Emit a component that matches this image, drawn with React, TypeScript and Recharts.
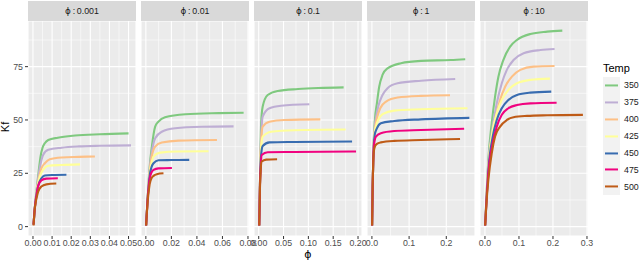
import React from 'react';
import { LineChart, Line, XAxis, YAxis, CartesianGrid } from 'recharts';

const temps = ['350', '375', '400', '425', '450', '475', '500'];
const tempColors = ['#7FC97F', '#BEAED4', '#FDC086', '#FFFF99', '#386CB0', '#F0027F', '#BF5B17'];
const phiLabels = ['0.001', '0.01', '0.1', '1', '10'];

// Kf against phi, one curve per temperature (350 .. 500), points as [phi, Kf]
const curvesPhi0001: number[][][] = [
  [[0.0003, 1], [0.001, 9], [0.002, 18], [0.003, 26], [0.004, 33], [0.005, 37], [0.0062, 39.1], [0.008, 40.6], [0.013, 41.7], [0.022, 42.7], [0.035, 43.3], [0.05, 43.7]],
  [[0.0003, 1], [0.001, 9], [0.002, 17.5], [0.003, 24.5], [0.004, 29.5], [0.0053, 33.6], [0.008, 36], [0.015, 37], [0.024, 37.6], [0.035, 37.9], [0.0513, 38.1]],
  [[0.0003, 1], [0.001, 9], [0.002, 17], [0.003, 22.5], [0.0045, 27.5], [0.0062, 29.7], [0.0088, 31.6], [0.015, 32.4], [0.024, 32.7], [0.0324, 32.9]],
  [[0.0003, 1], [0.001, 9], [0.002, 16.5], [0.003, 21.5], [0.004, 24.5], [0.0053, 26.6], [0.008, 28.5], [0.015, 28.9], [0.0246, 29.2]],
  [[0.0003, 1], [0.001, 9], [0.002, 16], [0.003, 20], [0.0044, 22.7], [0.0062, 24], [0.01, 24.2], [0.0175, 24.3]],
  [[0.0003, 1], [0.001, 9], [0.002, 15.5], [0.0027, 19], [0.0044, 21.7], [0.007, 22.5], [0.013, 22.7]],
  [[0.0003, 0.5], [0.0009, 8], [0.0018, 13], [0.0027, 16.4], [0.0044, 18.8], [0.007, 19.8], [0.0122, 20.2]],
];

const curvesPhi001: number[][][] = [
  [[0.0002, 0.5], [0.0015, 14], [0.003, 28], [0.0047, 37.5], [0.0073, 46.9], [0.0099, 49.2], [0.015, 51.3], [0.031, 52.7], [0.057, 53.2], [0.0766, 53.4]],
  [[0.0002, 0.5], [0.0015, 14], [0.003, 27], [0.0047, 35], [0.0073, 41.4], [0.0125, 44.5], [0.023, 46.1], [0.044, 46.8], [0.0687, 47]],
  [[0.0002, 0.5], [0.0015, 14], [0.003, 26], [0.0045, 32.5], [0.0073, 37.5], [0.0125, 39.4], [0.0256, 40.3], [0.0557, 40.6]],
  [[0.0002, 0.5], [0.0015, 14], [0.003, 25], [0.0045, 30], [0.006, 32.8], [0.0112, 34.7], [0.0256, 35.2], [0.0491, 35.3]],
  [[0.0002, 0.5], [0.0015, 14], [0.003, 24], [0.0045, 28], [0.006, 29.7], [0.0099, 31.1], [0.02, 31.2], [0.034, 31.3]],
  [[0.0002, 0.5], [0.0015, 13.5], [0.003, 22.5], [0.0045, 25.5], [0.006, 26.6], [0.0099, 27.3], [0.0204, 27.5]],
  [[0.0002, 0.5], [0.0015, 12.5], [0.003, 20], [0.0045, 22.8], [0.006, 23.8], [0.0086, 24.6], [0.0138, 25]],
];

const curvesPhi01: number[][][] = [
  [[0.001, 0.5], [0.0025, 20], [0.0038, 38], [0.0048, 48], [0.008, 56.3], [0.018, 61.7], [0.038, 63.6], [0.079, 64.5], [0.12, 65], [0.171, 65.3]],
  [[0.001, 0.5], [0.0025, 20], [0.0038, 36], [0.0052, 44], [0.008, 51.6], [0.0216, 55.5], [0.045, 56.7], [0.102, 57.4]],
  [[0.001, 0.5], [0.0025, 20], [0.0038, 34], [0.0052, 41], [0.008, 46.9], [0.0216, 49.2], [0.052, 50], [0.124, 50.3]],
  [[0.001, 0.5], [0.0025, 20], [0.0038, 32], [0.0052, 38], [0.008, 42.2], [0.025, 44.5], [0.072, 45.2], [0.175, 45.5]],
  [[0.001, 0.5], [0.0025, 20], [0.0038, 30], [0.0052, 34.5], [0.008, 37.8], [0.0216, 39.5], [0.072, 39.7], [0.188, 39.9]],
  [[0.001, 0.5], [0.0025, 19.5], [0.004, 28], [0.006, 33.6], [0.018, 34.9], [0.072, 35], [0.196, 35.2]],
  [[0.001, 0.5], [0.0025, 18], [0.004, 26.5], [0.006, 30.5], [0.015, 31.4], [0.037, 31.6]],
];

const curvesPhi1: number[][][] = [
  [[0.0005, 0.5], [0.002, 19], [0.0035, 30], [0.005, 40], [0.008, 50], [0.0134, 57.8], [0.0196, 65.6], [0.0285, 71.1], [0.042, 74.2], [0.078, 76.6], [0.132, 77.7], [0.212, 78.1], [0.251, 78.5]],
  [[0.0005, 0.5], [0.002, 19], [0.0035, 30], [0.005, 39.5], [0.008, 47.5], [0.0125, 52.5], [0.017, 56.3], [0.0285, 61.7], [0.042, 64.9], [0.069, 67.2], [0.132, 68.4], [0.224, 69.2]],
  [[0.0005, 0.5], [0.002, 19], [0.0035, 30], [0.005, 39], [0.008, 45.5], [0.0134, 50.8], [0.0223, 55.5], [0.038, 58.6], [0.069, 60.5], [0.132, 61.3], [0.21, 61.6]],
  [[0.0005, 0.5], [0.002, 19], [0.0035, 30], [0.005, 38.5], [0.0075, 44], [0.0107, 47], [0.017, 50], [0.0285, 52.7], [0.06, 54.4], [0.132, 55], [0.257, 55.5]],
  [[0.0005, 0.5], [0.002, 19], [0.0035, 30], [0.005, 38], [0.0075, 43], [0.0134, 46.1], [0.024, 48.5], [0.06, 49.5], [0.132, 50.3], [0.262, 51]],
  [[0.0005, 0.5], [0.002, 19], [0.0035, 30], [0.005, 37], [0.0075, 40.5], [0.0107, 42.2], [0.024, 43.8], [0.06, 44.8], [0.132, 45.3], [0.248, 45.9]],
  [[0.0005, 0.5], [0.002, 19], [0.0035, 30], [0.005, 35], [0.0085, 37.8], [0.0134, 38.8], [0.024, 39.5], [0.06, 40.2], [0.132, 40.6], [0.237, 41.1]],
];

const curvesPhi10: number[][][] = [
  [[0.0005, 0.5], [0.005, 16], [0.0099, 31.3], [0.0199, 48.5], [0.0297, 60.9], [0.0395, 70.3], [0.054, 78.1], [0.074, 84.4], [0.094, 87.5], [0.1335, 90.3], [0.183, 91.4], [0.2275, 91.9]],
  [[0.0005, 0.5], [0.005, 15.5], [0.0099, 30], [0.0199, 43.8], [0.0347, 57.8], [0.0495, 67.2], [0.0643, 73.5], [0.084, 78.1], [0.1137, 81.3], [0.163, 82.8], [0.2047, 83.3]],
  [[0.0005, 0.5], [0.005, 15], [0.0099, 28.5], [0.0199, 42], [0.0297, 50], [0.0445, 59.4], [0.0593, 65.6], [0.0792, 70.3], [0.1039, 73.5], [0.1433, 75], [0.2047, 75.3]],
  [[0.0005, 0.5], [0.005, 14.5], [0.0099, 27.5], [0.0228, 45.3], [0.0347, 53.1], [0.0495, 59.4], [0.069, 64.1], [0.094, 67.2], [0.1335, 68.8], [0.191, 69.4]],
  [[0.0005, 0.5], [0.005, 14], [0.0099, 26.5], [0.0228, 42.2], [0.0347, 50], [0.0495, 55.5], [0.069, 59.4], [0.094, 61.7], [0.1335, 62.8], [0.195, 63.3]],
  [[0.0005, 0.5], [0.005, 13.5], [0.0099, 25], [0.0228, 39.1], [0.0347, 46.9], [0.0495, 52.4], [0.069, 55.5], [0.094, 57], [0.1335, 57.8], [0.2107, 58.1]],
  [[0.0005, 0.5], [0.005, 12.5], [0.0099, 21.9], [0.0199, 34.4], [0.0297, 42.2], [0.0445, 46.9], [0.0643, 50], [0.084, 51.3], [0.1237, 51.9], [0.183, 52.2], [0.288, 52.4]],
];

const xTicks0001 = [0, 0.01, 0.02, 0.03, 0.04, 0.05];
const xTicks001 = [0, 0.02, 0.04, 0.06, 0.08];
const xTicks01 = [0, 0.05, 0.1, 0.15, 0.2];
const xTicks1 = [0, 0.1, 0.2];
const xTicks10 = [0, 0.1, 0.2, 0.3];
const kfTicks = [0, 25, 50, 75];
const kfMinor = [12.5, 37.5, 62.5, 87.5];

const panels = [
  { label: phiLabels[0], curves: curvesPhi0001, ticks: xTicks0001, domain: [-0.0026, 0.0539], digits: 2 },
  { label: phiLabels[1], curves: curvesPhi001, ticks: xTicks001, domain: [-0.0038, 0.0808], digits: 2 },
  { label: phiLabels[2], curves: curvesPhi01, ticks: xTicks01, domain: [-0.0095, 0.208], digits: 2 },
  { label: phiLabels[3], curves: curvesPhi1, ticks: xTicks1, domain: [-0.0132, 0.2772], digits: 1 },
  { label: phiLabels[4], curves: curvesPhi10, ticks: xTicks10, domain: [-0.0146, 0.303], digits: 1 },
];

const FONT = '"Liberation Sans", Arial, sans-serif';
const PHI_FONT = '"DejaVu Sans", sans-serif';
const PANEL_LEFT = 28;
const PANEL_W = 108;
const PANEL_STEP = 113;
const PANEL_TOP = 21;
const PANEL_H = 215;
const AXIS_H = 22;
const KF_DOMAIN = [-4.4, 96.4];

// minor grid halfway between major breaks, kept inside the panel range
const minorBreaks = (ticks: number[], domain: number[]) => {
  const step = ticks[1] - ticks[0];
  return [...ticks, ticks[ticks.length - 1] + step]
    .map((t) => t - step / 2)
    .filter((t) => t > domain[0] && t < domain[1]);
};

const tickStyle = { fill: '#4D4D4D', fontSize: 8.8, fontFamily: FONT };

const Panel = ({ index }: { index: number }) => {
  const p = panels[index];
  const first = index === 0;
  const left = first ? 0 : PANEL_LEFT + index * PANEL_STEP;
  const width = first ? PANEL_LEFT + PANEL_W : PANEL_W;
  return (
    <div style={{ position: 'absolute', left, top: PANEL_TOP }}>
      <LineChart width={width} height={PANEL_H + AXIS_H} margin={{ top: 0, right: 0, bottom: 0, left: 0 }}>
        <CartesianGrid
          fill="#EBEBEB"
          stroke="#FFFFFF"
          strokeWidth={0.55}
          horizontalValues={kfMinor}
          verticalValues={minorBreaks(p.ticks, p.domain)}
        />
        <CartesianGrid stroke="#FFFFFF" strokeWidth={1.1} />
        <XAxis
          type="number"
          dataKey="x"
          domain={p.domain}
          ticks={p.ticks}
          interval={0}
          allowDataOverflow
          height={AXIS_H}
          axisLine={false}
          tickLine={{ stroke: '#333333' }}
          tickSize={3}
          tickMargin={1}
          tick={tickStyle}
          tickFormatter={(v: number) => v.toFixed(p.digits)}
        />
        <YAxis
          type="number"
          domain={KF_DOMAIN}
          ticks={kfTicks}
          allowDataOverflow
          hide={!first}
          width={PANEL_LEFT}
          axisLine={false}
          tickLine={{ stroke: '#333333' }}
          tickSize={3}
          tickMargin={2}
          tick={tickStyle}
        />
        {p.curves.map((pts, k) => (
          <Line
            key={temps[k]}
            data={pts.map(([x, y]) => ({ x, y }))}
            dataKey="y"
            type="monotone"
            stroke={tempColors[k]}
            strokeWidth={2.1}
            dot={false}
            activeDot={false}
            isAnimationActive={false}
          />
        ))}
      </LineChart>
    </div>
  );
};

const Strip = ({ index }: { index: number }) => (
  <div
    style={{
      position: 'absolute',
      left: PANEL_LEFT + index * PANEL_STEP,
      top: 1,
      width: PANEL_W,
      height: 20,
      background: '#D9D9D9',
      color: '#1A1A1A',
      fontSize: 8.8,
      display: 'flex',
      alignItems: 'center',
      justifyContent: 'center',
    }}
  >
    <span style={{ fontFamily: PHI_FONT, color: '#1A1A1A' }}>ϕ</span>
    {`\u2009:\u2009${panels[index].label}`}
  </div>
);

const Legend = () => (
  <div style={{ position: 'absolute', left: 603, top: 61 }}>
    <div style={{ fontSize: 11, color: '#000', lineHeight: '14px', marginBottom: 2 }}>Temp</div>
    {temps.map((t, k) => (
      <div key={t} style={{ display: 'flex', alignItems: 'center', height: 16.9 }}>
        <svg width={17} height={16.9} style={{ background: '#F2F2F2', display: 'block' }}>
          <line x1={2} x2={15} y1={8.45} y2={8.45} stroke={tempColors[k]} strokeWidth={2} />
        </svg>
        <span style={{ fontSize: 8.8, color: '#1A1A1A', marginLeft: 4 }}>{t}</span>
      </div>
    ))}
  </div>
);

export default function App() {
  return (
    <div
      style={{
        position: 'absolute',
        left: 0,
        top: 0,
        width: 640,
        height: 262,
        background: '#FFFFFF',
        fontFamily: FONT,
        overflow: 'hidden',
      }}
    >
      <style>{'.recharts-surface { overflow: visible; }'}</style>
      {panels.map((p, i) => (
        <Panel key={p.label} index={i} />
      ))}
      {panels.map((p, i) => (
        <Strip key={p.label} index={i} />
      ))}
      <div
        style={{
          position: 'absolute',
          left: -5,
          top: 121,
          width: 20,
          fontSize: 11,
          color: '#000',
          textAlign: 'center',
          transform: 'rotate(-90deg)',
        }}
      >
        Kf
      </div>
      <div
        style={{
          position: 'absolute',
          left: 298,
          top: 248,
          width: 20,
          textAlign: 'center',
          fontSize: 11,
          color: '#000',
          fontFamily: PHI_FONT,
        }}
      >
        ϕ
      </div>
      <Legend />
    </div>
  );
}
